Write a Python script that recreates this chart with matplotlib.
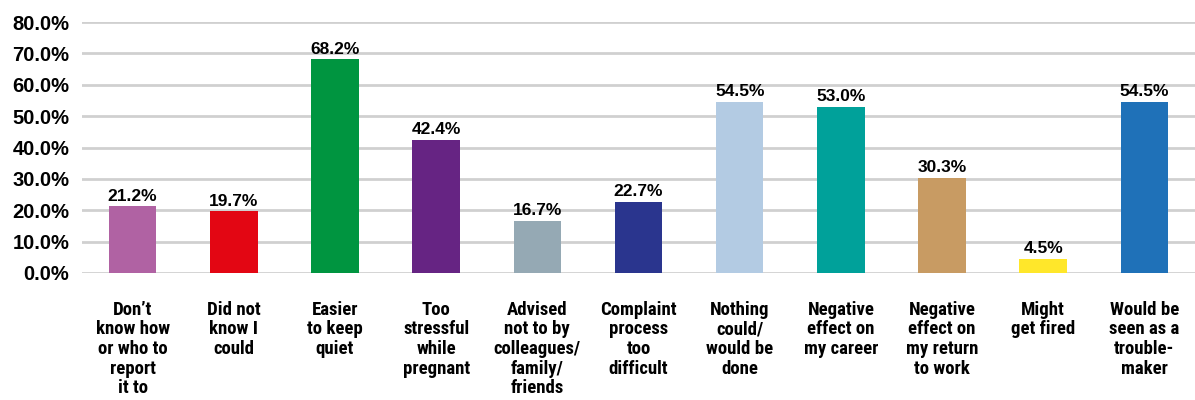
import matplotlib.pyplot as plt
from matplotlib import font_manager
import numpy as np

categories = [
    "Don\u2019t\nknow how\nor who to\nreport\nit to",
    "Did not\nknow I\ncould",
    "Easier\nto keep\nquiet",
    "Too\nstressful\nwhile\npregnant",
    "Advised\nnot to by\ncolleagues/\nfamily/\nfriends",
    "Complaint\nprocess\ntoo\ndifficult",
    "Nothing\ncould/\nwould be\ndone",
    "Negative\neffect on\nmy career",
    "Negative\neffect on\nmy return\nto work",
    "Might\nget fired",
    "Would be\nseen as a\ntrouble-\nmaker",
]
values = [21.2, 19.7, 68.2, 42.4, 16.7, 22.7, 54.5, 53.0, 30.3, 4.5, 54.5]
colors = ["#B062A3", "#E30613", "#009540", "#662483", "#95A9B4", "#2A358E",
          "#B3CBE3", "#00A19A", "#C89B63", "#FFE72A", "#1F71B8"]
yticks = [0, 10, 20, 30, 40, 50, 60, 70, 80]

names = {f.name for f in font_manager.fontManager.ttflist}
narrow = "Liberation Sans Narrow" if "Liberation Sans Narrow" in names else "Roboto Condensed"
if narrow not in names:
    narrow = "Liberation Sans"

fig = plt.figure(figsize=(11.95, 4.0), dpi=100)
ax = fig.add_axes([0.0686, 0.3175, 0.9314, 0.6275])

x = np.arange(len(values))
ax.bar(x, values, width=0.47, color=colors, zorder=3)
for xi, v in zip(x, values):
    ax.text(xi, v + 0.8, f"{v:.1f}%", ha="center", va="bottom",
            fontsize=12.5, fontweight="bold", family="Liberation Sans", zorder=4)

ax.set_xlim(-0.5, len(values) - 0.5)
ax.set_ylim(0, 80)
ax.set_yticks(yticks)
ax.set_yticklabels([f"{t:.1f}%" for t in yticks], fontsize=14.5,
                   fontweight="bold", family="Liberation Sans")
ax.set_xticks(x)
ax.set_xticklabels(categories, fontsize=13.5, fontweight="bold", family=narrow,
                   va="top", linespacing=1.12)
ax.tick_params(axis="x", length=0, pad=20)
ax.tick_params(axis="y", length=0, pad=9)
ax.yaxis.grid(True, color="#D0D0D0", linewidth=2, zorder=0)
for s in ax.spines.values():
    s.set_visible(False)

fig.savefig("out.png", dpi=100)
